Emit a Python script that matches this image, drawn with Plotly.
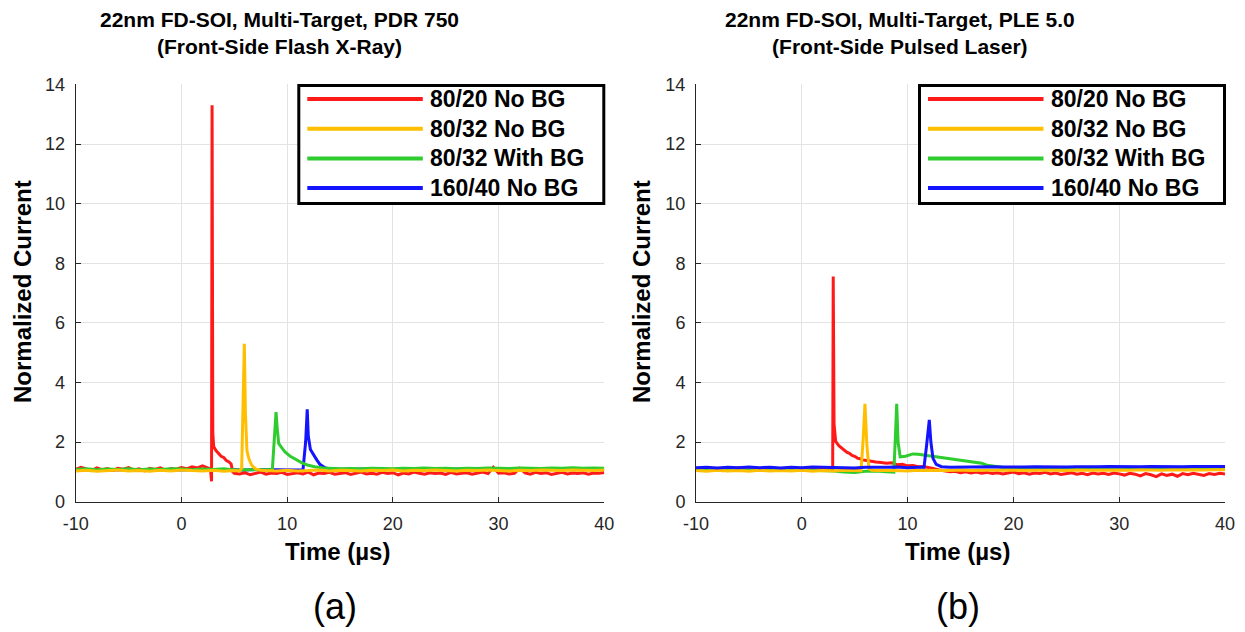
import plotly.graph_objects as go

W, H = 1245, 632
FONT = "Liberation Sans, Arial, sans-serif"

# ---------------- data ----------------
SERIES_NAMES = ["80/20 No BG", "80/32 No BG", "80/32 With BG", "160/40 No BG"]
SERIES_COLORS = ["#FF1A1A", "#FFBF00", "#2ECC2E", "#1414FF"]
PANEL_TITLES = ["22nm FD-SOI, Multi-Target, PDR 750<br>(Front-Side Flash X-Ray)",
                "22nm FD-SOI, Multi-Target, PLE 5.0<br>(Front-Side Pulsed Laser)"]
PANEL_TAGS = ["(a)", "(b)"]
X_LABEL = "Time (\u00b5s)"
Y_LABEL = "Normalized Current"
X_TICKS = [-10, 0, 10, 20, 30, 40]
X_TICK_LABELS = ["-10", "0", "10", "20", "30", "40"]
Y_TICKS = [0, 2, 4, 6, 8, 10, 12, 14]

T_INT = [-10, -9, -8, -7, -6, -5, -4, -3, -2, -1, 0, 1, 2, 3, 4, 5, 6, 7, 8, 9, 10,
         11, 12, 13, 14, 15, 16, 17, 18, 19, 20, 21, 22, 23, 24, 25, 26, 27, 28, 29, 30,
         31, 32, 33, 34, 35, 36, 37, 38, 39, 40]
T_HALF = [-10, -9.5, -9, -8.5, -8, -7.5, -7, -6.5, -6, -5.5, -5, -4.5, -4, -3.5, -3, -2.5,
          -2, -1.5, -1, -0.5, 0, 0.5, 1, 1.5, 2, 2.5, 3, 3.5, 4, 4.5, 5, 5.5, 6, 6.5, 7, 7.5,
          8, 8.5, 9, 9.5, 10, 10.5, 11, 11.5, 12, 12.5, 13, 13.5, 14, 14.5, 15, 15.5, 16,
          16.5, 17, 17.5, 18, 18.5, 19, 19.5, 20, 20.5, 21, 21.5, 22, 22.5, 23, 23.5, 24,
          24.5, 25, 25.5, 26, 26.5, 27, 27.5, 28, 28.5, 29, 29.5, 30, 30.5, 31, 31.5, 32,
          32.5, 33, 33.5, 34, 34.5, 35, 35.5, 36, 36.5, 37, 37.5, 38, 38.5, 39, 39.5, 40]

# ---- panel (a): flash X-ray ----
A_RED_PRE = [1.08, 1.15, 1.10, 1.04, 1.13, 1.07, 1.11, 1.05, 1.12, 1.09, 1.14, 1.06, 1.10,
             1.03, 1.12, 1.08, 1.13, 1.05, 1.11, 1.09, 1.14, 1.10, 1.17, 1.13, 1.20, 1.12]
A_RED_SPIKE_T = [2.75, 2.85, 2.9, 2.97, 3.05, 3.25, 3.5, 3.75, 4.0, 4.25, 4.5, 4.7, 4.85, 5.0]
A_RED_SPIKE = [1.09, 0.68, 13.3, 2.3, 1.85, 1.72, 1.62, 1.52, 1.48, 1.38, 1.33, 1.26, 1.0, 0.95]
A_RED_POST = [0.93, 0.97, 0.90, 0.95, 0.99, 0.92, 0.96, 0.94, 0.98, 0.91,
              0.95, 0.97, 0.93, 0.99, 0.90, 0.96, 0.94, 0.98, 0.92, 0.95,
              0.97, 0.91, 0.96, 0.99, 0.93, 0.95, 0.92, 0.98, 0.94, 0.97,
              0.90, 0.96, 0.93, 0.99, 0.95, 0.92, 0.97, 0.94, 0.96, 0.91,
              0.98, 0.93, 0.95, 0.97, 0.92, 0.96, 0.99, 0.94, 1.15, 0.95,
              0.97, 0.93, 0.95, 1.12, 0.96, 0.92, 0.98, 0.94, 0.97, 0.91,
              0.95, 0.98, 0.93, 0.96, 0.94, 0.97, 0.92, 0.96, 0.95, 0.98]

A_ORANGE_PRE = [1.03, 1.05, 1.02, 1.04, 1.06, 1.03, 1.04, 1.02, 1.05, 1.03, 1.06, 1.04,
                1.03, 1.05, 1.02, 1.04]
A_ORANGE_SPIKE_T = [5.5, 5.7, 5.85, 5.95, 6.05, 6.2, 6.4, 6.65, 7.0, 7.5]
A_ORANGE_SPIKE = [1.03, 1.12, 3.6, 5.3, 3.0, 1.7, 1.42, 1.22, 1.10, 1.05]
A_ORANGE_POST = [1.04, 1.03, 1.05, 1.03, 1.04, 1.06, 1.03, 1.05, 1.04, 1.03, 1.05, 1.04,
                 1.06, 1.03, 1.05, 1.04, 1.06, 1.04, 1.03, 1.05, 1.04, 1.06, 1.05, 1.03,
                 1.05, 1.04, 1.06, 1.05, 1.04, 1.06, 1.05, 1.04, 1.06]

A_GREEN_PRE = [1.08, 1.10, 1.07, 1.09, 1.08, 1.10, 1.07, 1.09, 1.08, 1.10, 1.09, 1.07,
               1.09, 1.08, 1.10, 1.06, 1.07, 1.08, 1.07]
A_GREEN_SPIKE_T = [8.6, 8.8, 8.95, 9.05, 9.2, 9.5, 9.8, 10.3, 10.9, 11.4, 11.9, 12.6, 13.4, 14.2]
A_GREEN_SPIKE = [1.07, 2.0, 3.0, 2.5, 1.95, 1.80, 1.67, 1.52, 1.40, 1.30, 1.23, 1.17, 1.13, 1.11]
A_GREEN_POST = [1.10, 1.11, 1.10, 1.12, 1.11, 1.10, 1.12, 1.11, 1.13, 1.11, 1.12, 1.10,
                1.12, 1.11, 1.13, 1.12, 1.11, 1.13, 1.12, 1.11, 1.13, 1.12, 1.14, 1.12,
                1.13, 1.12]

A_BLUE_PRE = [1.06, 1.07, 1.05, 1.07, 1.06, 1.08, 1.06, 1.07, 1.05, 1.07, 1.06, 1.08,
              1.07, 1.06, 1.08, 1.07, 1.06, 1.08, 1.07, 1.06, 1.07, 1.06]
A_BLUE_SPIKE_T = [11.5, 11.75, 11.9, 12.0, 12.2, 12.5, 12.8, 13.1, 13.5, 14.0]
A_BLUE_SPIKE = [1.07, 2.0, 3.1, 2.2, 1.75, 1.55, 1.40, 1.25, 1.15, 1.10]
A_BLUE_POST = [1.08, 1.07, 1.09, 1.08, 1.07, 1.08, 1.09, 1.08, 1.07, 1.08, 1.09, 1.08,
               1.07, 1.08, 1.09, 1.08, 1.08, 1.07, 1.09, 1.08, 1.08, 1.09, 1.07, 1.08,
               1.09, 1.08]

# ---- panel (b): pulsed laser ----
B_RED_PRE = [1.10, 1.05, 1.13, 1.08, 1.12, 1.04, 1.11, 1.07, 1.14, 1.09, 1.06, 1.12, 1.08,
             1.13, 1.05, 1.10, 1.07, 1.12, 1.09, 1.05, 1.11, 1.08, 1.13, 1.06, 1.10, 1.08]
B_RED_SPIKE_T = [2.8, 2.92, 2.97, 3.05, 3.2, 3.5, 3.75, 4.0, 4.25, 4.5, 4.75, 5.0, 5.25, 5.5,
                 5.75, 6.0, 6.5, 7.0, 7.5, 8.0, 8.5, 9.0, 9.5, 10.0, 10.5, 11.0, 11.5, 12.0,
                 12.5, 13.0]
B_RED_SPIKE = [1.09, 1.10, 7.55, 2.6, 2.02, 1.88, 1.80, 1.73, 1.66, 1.62, 1.55, 1.52, 1.46,
               1.44, 1.40, 1.39, 1.35, 1.33, 1.31, 1.29, 1.30, 1.24, 1.25, 1.20, 1.21, 1.17,
               1.18, 1.13, 1.10, 1.06]
B_RED_POST = [1.03, 1.00, 1.02, 0.97, 1.00, 0.96, 0.99, 0.95, 0.98, 0.94,
              0.97, 0.93, 0.96, 0.99, 0.94, 0.97, 0.92, 0.96, 0.94, 0.98,
              0.93, 0.96, 0.91, 0.95, 0.97, 0.92, 0.95, 0.90, 0.96, 0.93,
              0.95, 0.91, 0.96, 0.93, 0.89, 0.95, 0.92, 0.86, 0.94, 0.90,
              0.84, 0.93, 0.88, 0.92, 0.85, 0.94, 0.90, 0.95, 0.92, 0.88,
              0.94, 0.91, 0.95, 0.93]

B_ORANGE_PRE = [1.04, 1.02, 1.05, 1.03, 1.04, 1.02, 1.05, 1.03, 1.04, 1.03, 1.05, 1.02,
                1.04, 1.03, 1.05, 1.04]
B_ORANGE_SPIKE_T = [5.6, 5.8, 5.97, 6.15, 6.35, 6.6]
B_ORANGE_SPIKE = [1.04, 2.1, 3.28, 1.9, 1.1, 1.05]
B_ORANGE_POST = [1.04, 1.05, 1.04, 1.03, 1.05, 1.04, 1.05, 1.04, 1.06, 1.04, 1.05, 1.04,
                 1.05, 1.06, 1.04, 1.05, 1.06, 1.05, 1.04, 1.06, 1.05, 1.06, 1.05, 1.06,
                 1.05, 1.07, 1.06, 1.05, 1.07, 1.06, 1.07, 1.06, 1.07, 1.07]

B_GREEN_PRE = [1.05, 1.04, 1.06, 1.05, 1.04, 1.06, 1.05, 1.04, 1.05, 1.06, 1.04, 1.05,
               1.04, 1.03, 0.99, 0.98, 1.02, 1.03, 1.00]
B_GREEN_SPIKE_T = [8.7, 8.85, 8.97, 9.1, 9.3, 9.8, 10.5, 11.0, 12.0, 13.0, 14.0, 15.0, 16.0,
                   17.0, 17.5, 18.5, 19.5, 20.0]
B_GREEN_SPIKE = [0.99, 2.2, 3.28, 2.0, 1.50, 1.52, 1.60, 1.59, 1.54, 1.47, 1.42, 1.38, 1.34,
                 1.29, 1.22, 1.17, 1.12, 1.10]
B_GREEN_POST = [1.10, 1.09, 1.10, 1.11, 1.10, 1.09, 1.10, 1.11, 1.10, 1.10, 1.09, 1.11,
                1.10, 1.10, 1.11, 1.10, 1.09, 1.10, 1.11, 1.10]

B_BLUE_PRE = [1.14, 1.15, 1.13, 1.15, 1.14, 1.16, 1.14, 1.15, 1.13, 1.15, 1.14, 1.16,
              1.15, 1.14, 1.15, 1.13, 1.15, 1.14, 1.15, 1.16, 1.14, 1.15]
B_BLUE_SPIKE_T = [11.55, 11.8, 12.05, 12.2, 12.4, 12.7, 13.2]
B_BLUE_SPIKE = [1.15, 1.9, 2.74, 2.0, 1.45, 1.25, 1.17]
B_BLUE_POST = [1.15, 1.16, 1.15, 1.16, 1.17, 1.16, 1.15, 1.16, 1.17, 1.16, 1.17, 1.16,
               1.17, 1.16, 1.17, 1.18, 1.17, 1.16, 1.17, 1.18, 1.17, 1.18, 1.17, 1.18,
               1.17, 1.18, 1.18]

panels = [
    [  # (a)
        (T_HALF[:26] + A_RED_SPIKE_T + T_HALF[31:], A_RED_PRE + A_RED_SPIKE + A_RED_POST),
        (T_INT[:16] + A_ORANGE_SPIKE_T + T_INT[18:], A_ORANGE_PRE + A_ORANGE_SPIKE + A_ORANGE_POST),
        (T_INT[:19] + A_GREEN_SPIKE_T + T_INT[25:], A_GREEN_PRE + A_GREEN_SPIKE + A_GREEN_POST),
        (T_INT[:22] + A_BLUE_SPIKE_T + T_INT[25:], A_BLUE_PRE + A_BLUE_SPIKE + A_BLUE_POST),
    ],
    [  # (b)
        (T_HALF[:26] + B_RED_SPIKE_T + T_HALF[47:], B_RED_PRE + B_RED_SPIKE + B_RED_POST),
        (T_INT[:16] + B_ORANGE_SPIKE_T + T_INT[17:], B_ORANGE_PRE + B_ORANGE_SPIKE + B_ORANGE_POST),
        (T_INT[:19] + B_GREEN_SPIKE_T + T_INT[31:], B_GREEN_PRE + B_GREEN_SPIKE + B_GREEN_POST),
        (T_INT[:22] + B_BLUE_SPIKE_T + T_INT[24:], B_BLUE_PRE + B_BLUE_SPIKE + B_BLUE_POST),
    ],
]

# ---------------- figure ----------------
def px(x):
    return x / W


def py(y):
    return 1 - y / H


fig = go.Figure()
DRAW_ORDERS = [[3, 0, 2, 1], [0, 2, 1, 3]]
for p, series in enumerate(panels):
    xa = "x" if p == 0 else "x2"
    ya = "y" if p == 0 else "y2"
    for i in DRAW_ORDERS[p]:
        t, v = series[i]
        assert len(t) == len(v), (p, i, len(t), len(v))
        fig.add_trace(go.Scatter(x=t, y=v, mode="lines", name=SERIES_NAMES[i],
                                 line=dict(color=SERIES_COLORS[i], width=3),
                                 xaxis=xa, yaxis=ya, showlegend=False))

# axis pixel geometry
X_DOM = [(75.7, 604.3), (696.0, 1225.0)]
Y_TOP, Y_BOT = 84.4, 501.6

axis_common = dict(showgrid=True, gridcolor="#E3E3E3", gridwidth=1, zeroline=False,
                   showline=True, linecolor="#262626", linewidth=1, ticks="inside",
                   ticklen=5, tickcolor="#262626", tickwidth=1, automargin=False,
                   tickfont=dict(family=FONT, size=18, color="#262626"))
for p in range(2):
    sfx = "" if p == 0 else "2"
    fig.layout["xaxis" + sfx] = dict(axis_common, domain=[px(X_DOM[p][0]), px(X_DOM[p][1])],
                                     range=[-10, 40], tickvals=X_TICKS, ticktext=X_TICK_LABELS,
                                     anchor="y" + sfx, ticklabelstandoff=6)
    fig.layout["yaxis" + sfx] = dict(axis_common, domain=[py(Y_BOT), py(Y_TOP)],
                                     range=[0, 14], tickvals=Y_TICKS,
                                     anchor="x" + sfx, ticklabelstandoff=6)

annotations = []
shapes = []
TITLE_X = [279, 900]
YLAB_X = [22, 641]
XLAB_X = [337, 958]
TAG_X = [335, 958]
for p in range(2):
    annotations.append(dict(text="<b>" + PANEL_TITLES[p] + "</b>", x=px(TITLE_X[p]), y=py(33.5),
                            xref="paper", yref="paper", showarrow=False,
                            xanchor="center", yanchor="middle",
                            font=dict(family=FONT, size=21, color="#000000")))
    annotations.append(dict(text="<b>" + Y_LABEL + "</b>", x=px(YLAB_X[p]), y=py(292),
                            xref="paper", yref="paper", showarrow=False, textangle=-90,
                            xanchor="center", yanchor="middle",
                            font=dict(family=FONT, size=24, color="#000000")))
    annotations.append(dict(text="<b>" + X_LABEL + "</b>", x=px(XLAB_X[p]), y=py(551),
                            xref="paper", yref="paper", showarrow=False,
                            xanchor="center", yanchor="middle",
                            font=dict(family=FONT, size=24, color="#000000")))
    annotations.append(dict(text=PANEL_TAGS[p], x=px(TAG_X[p]), y=py(606),
                            xref="paper", yref="paper", showarrow=False,
                            xanchor="center", yanchor="middle",
                            font=dict(family=FONT, size=36, color="#000000")))

    # legend box (drawn manually to get long MATLAB-style sample lines)
    right = X_DOM[p][1] + 1.0
    left = right - 308.0
    top, bot = 84.0, 205.0
    shapes.append(dict(type="rect", xref="paper", yref="paper",
                       x0=px(left + 1.5), x1=px(right - 1.5), y0=py(top + 1.5), y1=py(bot - 1.5),
                       line=dict(color="#000000", width=3), fillcolor="#FFFFFF", layer="above"))
    rows = [99, 128.7, 158.4, 188]
    for i, name in enumerate(SERIES_NAMES):
        shapes.append(dict(type="line", xref="paper", yref="paper",
                           x0=px(left + 10), x1=px(left + 125.5), y0=py(rows[i]), y1=py(rows[i]),
                           line=dict(color=SERIES_COLORS[i], width=4), layer="above"))
        annotations.append(dict(text="<b>" + name + "</b>", x=px(left + 131), y=py(rows[i]),
                                xref="paper", yref="paper", showarrow=False,
                                xanchor="left", yanchor="middle",
                                font=dict(family=FONT, size=23, color="#000000")))

fig.update_layout(width=W, height=H, autosize=False, template="none",
                  margin=dict(l=0, r=0, t=0, b=0, pad=0, autoexpand=False),
                  paper_bgcolor="#FFFFFF", plot_bgcolor="#FFFFFF",
                  annotations=annotations, shapes=shapes, showlegend=False)

fig.write_html("out.html",
               post_script="document.body.style.margin='0';document.body.style.padding='0';"
                           "document.documentElement.style.overflow='hidden';")
